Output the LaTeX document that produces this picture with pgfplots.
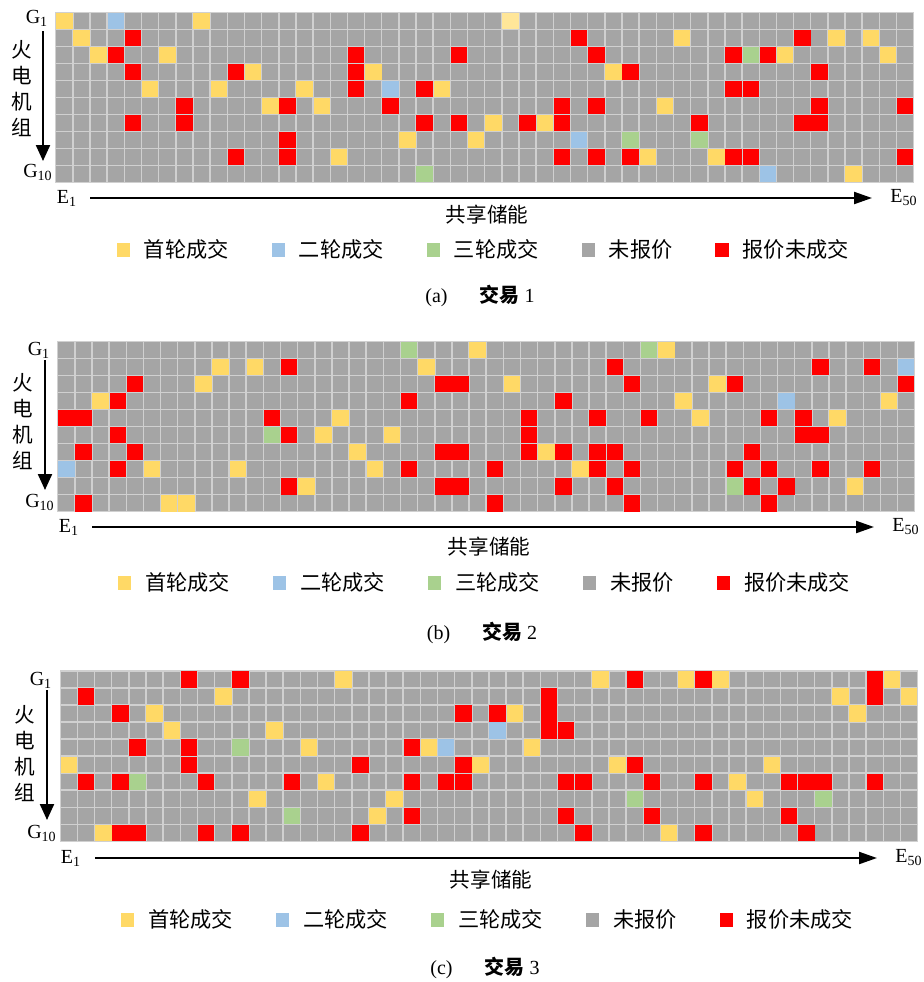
\documentclass[border=0pt]{standalone}
\usepackage{fontspec}
\setmainfont{Liberation Serif}
\newfontfamily\cjk{Noto Sans CJK SC}
\usepackage{pgfplots}
\pgfplotsset{compat=1.18}
\usetikzlibrary{arrows.meta}
\definecolor{cY}{HTML}{FFD966}
\definecolor{cL}{HTML}{FFE699}
\definecolor{cB}{HTML}{9DC3E6}
\definecolor{cG}{HTML}{A9D18E}
\definecolor{cN}{HTML}{A5A5A5}
\definecolor{cR}{HTML}{FF0000}
\definecolor{cLine}{HTML}{D0D0D0}
\newcommand\lat{\fontsize{10}{12}\selectfont}
\newcommand\zh{\cjk\fontsize{10.3}{13}\selectfont}
\newcommand\zhl{\cjk\fontsize{10.6}{13}\selectfont}
\pgfplotsset{
  legend image code/.code={\fill[#1, draw=none] (0pt,-3.3pt) rectangle (6.6pt,3.3pt);},
  cellgrid/.style={
    scale only axis,
    xmin=0.5, xmax=50.5, ymin=0.5, ymax=10.5, y dir=reverse,
    xtick={0.5,1.5,...,50.5}, ytick={0.5,1.5,...,10.5},
    xticklabels={}, yticklabels={}, major tick length=0pt,
    grid=major, major grid style={line width=0.75pt, draw=cLine},
    axis line style={line width=0.75pt, draw=cLine},
    axis on top,
    legend columns=5,
    legend style={draw=none, fill=none, font=\zhl, inner sep=0pt,
      /tikz/every odd column/.append style={column sep=5pt},
      /tikz/every even column/.append style={column sep=19.5pt}},
  },
  cell/.style={only marks, mark=square*, mark size=3.88pt, forget plot, color=#1, mark options={draw=none, fill=#1}},
  bg/.style={fill=cN, draw=none, forget plot},
}
\newcommand\legs{%
  \addlegendimage{fill=cY}\addlegendentry{首轮成交}
  \addlegendimage{fill=cB}\addlegendentry{二轮成交}
  \addlegendimage{fill=cG}\addlegendentry{三轮成交}
  \addlegendimage{fill=cN}\addlegendentry{未报价}
  \addlegendimage{fill=cR}\addlegendentry{报价未成交}
}
\begin{document}
\begin{tikzpicture}[x=0.5pt,y=-0.5pt]
\path[use as bounding box] (0,0) rectangle (924,982);
% ---------------- panel (a)
\begin{axis}[cellgrid, at={(27.85pt,-6.15pt)}, anchor=north west, width=429pt, height=85pt,
  legend style={at={(0.5,-0.398)}, anchor=center}]
\addplot[bg] coordinates {(0.5,0.5) (50.5,0.5) (50.5,10.5) (0.5,10.5) (0.5,0.5)};
\addplot[cell=cY] coordinates {(1,1) (9,1) (2,2) (37,2) (46,2) (48,2) (3,3) (7,3) (43,3) (49,3) (12,4) (19,4) (33,4) (6,5) (10,5) (15,5) (23,5) (13,6) (16,6) (36,6) (26,7) (29,7) (21,8) (25,8) (17,9) (35,9) (39,9) (47,10)};
\addplot[cell=cL] coordinates {(27,1)};
\addplot[cell=cB] coordinates {(4,1) (20,5) (31,8) (42,10)};
\addplot[cell=cG] coordinates {(41,3) (34,8) (38,8) (22,10)};
\addplot[cell=cR] coordinates {(5,2) (31,2) (44,2) (4,3) (18,3) (24,3) (32,3) (40,3) (42,3) (5,4) (11,4) (18,4) (34,4) (45,4) (18,5) (22,5) (40,5) (41,5) (8,6) (14,6) (20,6) (30,6) (32,6) (45,6) (50,6) (5,7) (8,7) (22,7) (24,7) (28,7) (30,7) (38,7) (44,7) (45,7) (14,8) (11,9) (14,9) (30,9) (32,9) (34,9) (40,9) (41,9) (50,9)};
\legs
\end{axis}
\node[font=\lat] at (37,18) {G\textsubscript{1}};
\node[font=\zh, align=center] at (22,88.5) {火\\电\\机\\组};
\draw[line width=1.1pt, -{Triangle[width=7pt,length=8pt]}] (43,31) -- (43,161);
\node[font=\lat] at (38,172) {G\textsubscript{10}};
\node[font=\lat] at (67,198) {E\textsubscript{1}};
\draw[line width=1.1pt, -{Triangle[width=6pt,length=9pt]}] (90,198) -- (872,198);
\node[font=\lat] at (904,198) {E\textsubscript{50}};
\node[font=\zh] at (487,215) {共享储能};
\node[font=\lat] at (480,296) {(a)\hspace{16pt}{\cjk\bfseries 交易}\ 1};
% ---------------- panel (b)
\begin{axis}[cellgrid, at={(28.85pt,-170.65pt)}, anchor=north west, width=428.5pt, height=85.2pt,
  legend style={at={(0.5,-0.418)}, anchor=center}]
\addplot[bg] coordinates {(0.5,0.5) (50.5,0.5) (50.5,10.5) (0.5,10.5) (0.5,0.5)};
\addplot[cell=cY] coordinates {(25,1) (36,1) (10,2) (12,2) (22,2) (9,3) (27,3) (39,3) (3,4) (37,4) (49,4) (17,5) (38,5) (46,5) (16,6) (20,6) (18,7) (29,7) (6,8) (11,8) (19,8) (31,8) (15,9) (47,9) (7,10) (8,10)};
\addplot[cell=cB] coordinates {(50,2) (43,4) (1,8)};
\addplot[cell=cG] coordinates {(21,1) (35,1) (13,6) (40,9)};
\addplot[cell=cR] coordinates {(14,2) (33,2) (45,2) (48,2) (5,3) (23,3) (24,3) (34,3) (40,3) (50,3) (4,4) (21,4) (30,4) (1,5) (2,5) (13,5) (28,5) (32,5) (35,5) (42,5) (44,5) (4,6) (14,6) (28,6) (44,6) (45,6) (2,7) (5,7) (23,7) (24,7) (28,7) (30,7) (32,7) (33,7) (41,7) (4,8) (21,8) (26,8) (32,8) (34,8) (40,8) (42,8) (45,8) (48,8) (14,9) (23,9) (24,9) (30,9) (33,9) (41,9) (43,9) (2,10) (26,10) (34,10) (42,10)};
\legs
\end{axis}
\node[font=\lat] at (39,350) {G\textsubscript{1}};
\node[font=\zh, align=center] at (23,422) {火\\电\\机\\组};
\draw[line width=1.1pt, -{Triangle[width=7pt,length=8pt]}] (45,360) -- (45,490);
\node[font=\lat] at (40,502) {G\textsubscript{10}};
\node[font=\lat] at (69,527) {E\textsubscript{1}};
\draw[line width=1.1pt, -{Triangle[width=6pt,length=9pt]}] (92,527) -- (874,527);
\node[font=\lat] at (906,527) {E\textsubscript{50}};
\node[font=\zh] at (489,547) {共享储能};
\node[font=\lat] at (482,633) {(b)\hspace{16pt}{\cjk\bfseries 交易}\ 2};
% ---------------- panel (c)
\begin{axis}[cellgrid, at={(30.15pt,-335.5pt)}, anchor=north west, width=428.65pt, height=85.15pt,
  legend style={at={(0.5,-0.462)}, anchor=center}]
\addplot[bg] coordinates {(0.5,0.5) (50.5,0.5) (50.5,10.5) (0.5,10.5) (0.5,0.5)};
\addplot[cell=cY] coordinates {(17,1) (32,1) (37,1) (39,1) (49,1) (10,2) (46,2) (50,2) (6,3) (27,3) (47,3) (7,4) (13,4) (15,5) (22,5) (28,5) (1,6) (25,6) (33,6) (42,6) (16,7) (40,7) (12,8) (20,8) (41,8) (19,9) (3,10) (36,10)};
\addplot[cell=cB] coordinates {(26,4) (23,5)};
\addplot[cell=cG] coordinates {(11,5) (5,7) (34,8) (45,8) (14,9)};
\addplot[cell=cR] coordinates {(8,1) (11,1) (34,1) (38,1) (48,1) (2,2) (29,2) (48,2) (4,3) (24,3) (26,3) (29,3) (29,4) (30,4) (5,5) (8,5) (21,5) (8,6) (18,6) (24,6) (34,6) (2,7) (4,7) (9,7) (14,7) (21,7) (23,7) (24,7) (30,7) (31,7) (35,7) (38,7) (43,7) (44,7) (45,7) (48,7) (21,9) (30,9) (35,9) (43,9) (4,10) (5,10) (9,10) (11,10) (18,10) (31,10) (38,10) (44,10)};
\legs
\end{axis}
\node[font=\lat] at (41,680) {G\textsubscript{1}};
\node[font=\zh, align=center] at (25,753.5) {火\\电\\机\\组};
\draw[line width=1.1pt, -{Triangle[width=7pt,length=8pt]}] (47,690) -- (47,820);
\node[font=\lat] at (42,833) {G\textsubscript{10}};
\node[font=\lat] at (71,858) {E\textsubscript{1}};
\draw[line width=1.1pt, -{Triangle[width=6pt,length=9pt]}] (95,858) -- (877,858);
\node[font=\lat] at (909,858) {E\textsubscript{50}};
\node[font=\zh] at (491,880) {共享储能};
\node[font=\lat] at (485,968) {(c)\hspace{16pt}{\cjk\bfseries 交易}\ 3};
\end{tikzpicture}
\end{document}
